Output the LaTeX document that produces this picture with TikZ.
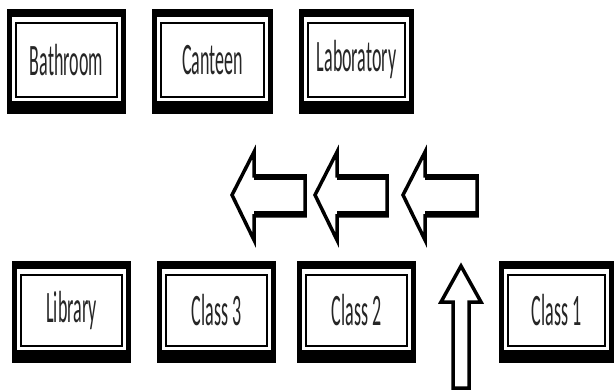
\documentclass[tikz,border=0pt]{standalone}
\usepackage{fontspec}
\setmainfont{Carlito}
\usetikzlibrary{backgrounds}
\newcommand{\squeeze}[1]{\scalebox{0.40}[1]{#1}}

\begin{document}
\begin{tikzpicture}[x=1pt, y=-1pt,
  room/.style={draw=black, line width=1.5pt, fill=white, inner sep=0pt,
    minimum height=74pt, font=\fontsize{45}{45}\selectfont, text=black!85},
  blockarrow/.style={draw=black, line width=3.5pt, fill=white, line join=miter}]
\useasboundingbox (0,0) rectangle (616,390);

%salas de cima
\node[room, minimum width=101pt] (bathroom) at (66.5,60) {\squeeze{Bathroom}};
\node[room, minimum width=103pt] (canteen) at (212.5,60) {\squeeze{Canteen}};
\node[room, minimum width=97pt] (laboratory) at (356.5,60) {\squeeze{Laboratory}};

%salas de baixo
\node[room, minimum width=101pt, minimum height=71pt] (library) at (71.5,310.5) {\squeeze{Library}};
\node[room, minimum width=101pt, minimum height=71pt] (class3) at (216.5,310.5) {\squeeze{Class 3}};
\node[room, minimum width=101pt, minimum height=71pt] (class2) at (356.5,310.5) {\squeeze{Class 2}};
\node[room, minimum width=97pt, minimum height=71pt] (class1) at (556.5,310.5) {\squeeze{Class 1}};

%molduras
\begin{scope}[on background layer]
\foreach \n in {bathroom,canteen,laboratory,library,class3,class2,class1}{
  \fill[black] ([shift={(-8pt,13pt)}]\n.north west) rectangle ([shift={(8pt,-16pt)}]\n.south east);
  \fill[white] ([shift={(-3pt,5pt)}]\n.north west) rectangle ([shift={(3pt,-3pt)}]\n.south east);
}
\end{scope}

%setas para a esquerda
\foreach \tip/\tail in {232/305, 315/387, 403/477}{
  \draw[blockarrow] (\tip,195) -- (\tip+22,152) -- (\tip+22,176) -- (\tail,176)
    -- (\tail,216) -- (\tip+22,216) -- (\tip+22,240) -- cycle;
  % bordas grossas do corpo
  \draw[line width=3pt] (\tip+22,179) -- (\tail,179);
  \draw[line width=3pt] (\tip+22,213) -- (\tail,213);
}

%seta para cima
\draw[blockarrow] (461,266) -- (481,302) -- (469,302) -- (469,388)
  -- (453,388) -- (453,302) -- (441,302) -- cycle;

\end{tikzpicture}
\end{document}
